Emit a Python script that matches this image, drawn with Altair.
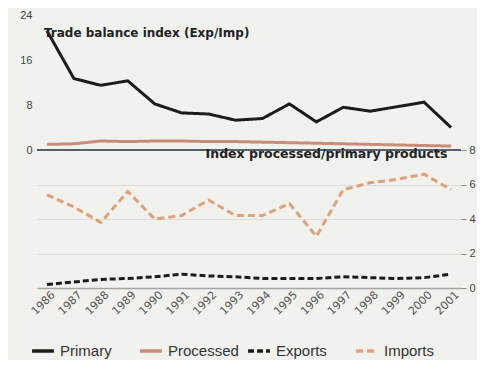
import altair as alt
import pandas as pd

years = [str(y) for y in range(1986, 2002)]
# Trade balance index (Exp/Imp), left axis
primary = [21.2, 12.7, 11.5, 12.3, 8.2, 6.6, 6.4, 5.3, 5.6, 8.2, 5.0, 7.6, 6.9, 7.7, 8.5, 4.0]
processed = [1.0, 1.1, 1.6, 1.5, 1.6, 1.6, 1.5, 1.5, 1.4, 1.3, 1.2, 1.1, 1.0, 0.9, 0.8, 0.7]
# Index processed/primary products, right axis
exports = [0.2, 0.35, 0.5, 0.55, 0.65, 0.8, 0.7, 0.65, 0.55, 0.55, 0.55, 0.65, 0.6, 0.55, 0.6, 0.8]
imports = [5.4, 4.7, 3.8, 5.6, 4.0, 4.2, 5.1, 4.2, 4.2, 4.9, 3.0, 5.7, 6.1, 6.3, 6.6, 5.7]

series_names = ["Primary", "Processed", "Exports", "Imports"]
series_colors = ["#1c1c1c", "#c98c76", "#1c1c1c", "#dea27a"]
series_dashes = [[1, 0], [1, 0], [6, 3], [7, 4]]

left_ticks = [0, 8, 16, 24]
right_ticks = [0, 2, 4, 6, 8]

annot_text = ["Trade balance index (Exp/Imp)", "Index processed/primary products"]
annot_year = ["1986", "1992"]
annot_value = [20.8, -0.7]
annot_size = [12, 12.5]

left_df = pd.DataFrame({
    "year": years * 2,
    "value": primary + processed,
    "series": ["Primary"] * len(years) + ["Processed"] * len(years),
})
right_df = pd.DataFrame({
    "year": years * 2,
    "value": exports + imports,
    "series": ["Exports"] * len(years) + ["Imports"] * len(years),
})
annot_df = pd.DataFrame({"year": annot_year, "value": annot_value, "label": annot_text, "size": annot_size})
zero_df = pd.DataFrame({"value": [0]})

W, H = 424, 273

x_enc = alt.X(
    "year:O",
    scale=alt.Scale(type="point", padding=0.37, domain=years),
    axis=alt.Axis(
        title=None, labelAngle=-45, labelAlign="right", labelBaseline="middle",
        ticks=False, domainColor="#a5a5a5", domainWidth=1.5,
        labelFont="DejaVu Sans", labelFontSize=11, labelColor="#555",
        labelPadding=5, labelOffset=6, grid=False,
    ),
)

left_scale = alt.Scale(domain=[-24.53, 24], nice=False, zero=False)
left_axis = alt.Axis(
    values=left_ticks, title=None, ticks=False, domain=False, grid=False,
    labelPadding=5, labelFont="Liberation Sans", labelFontSize=11, labelColor="#444",
)
left_y = alt.Y("value:Q", scale=left_scale, axis=left_axis)

right_scale = alt.Scale(domain=[0, 15.83], nice=False, zero=False)
right_axis = alt.Axis(
    values=right_ticks, title=None, orient="right", domain=False, grid=True,
    gridColor="#dcdcdc", gridWidth=1, tickColor="#8a8a8a", tickSize=5,
    labelPadding=3, labelFont="Liberation Sans", labelFontSize=11, labelColor="#444",
)
right_y = alt.Y("value:Q", scale=right_scale, axis=right_axis)

color_enc = alt.Color("series:N", scale=alt.Scale(domain=series_names, range=series_colors), title=None)
dash_enc = alt.StrokeDash("series:N", scale=alt.Scale(domain=series_names, range=series_dashes), title=None)

zero_rule = alt.Chart(zero_df).mark_rule(color="#56606b", strokeWidth=2).encode(y=left_y)

left_lines = alt.Chart(left_df).mark_line(strokeWidth=3).encode(
    x=x_enc, y=left_y, color=color_enc, strokeDash=dash_enc
)

annots = alt.Chart(annot_df).mark_text(
    align="left", baseline="middle", dx=-3, font="DejaVu Sans", fontWeight="bold",
    color="#222",
).encode(x=x_enc, y=left_y, text="label:N",
         size=alt.Size("size:Q", scale=None, legend=None))

right_lines = alt.Chart(right_df).mark_line(strokeWidth=3).encode(
    x=x_enc, y=right_y, color=color_enc, strokeDash=dash_enc
)

left_group = alt.layer(zero_rule, left_lines, annots)

chart = alt.layer(left_group, right_lines).resolve_scale(y="independent").properties(
    width=W, height=H,
    autosize=alt.AutoSizeParams(type="none"),
    padding={"left": 29, "top": 7, "right": 16, "bottom": 72},
    background="#f1f1ee",
).configure_view(stroke=None).configure_legend(
    orient="none", legendX=-7, legendY=323, direction="horizontal", columns=4,
    gridAlign="all", columnPadding=2, symbolType="stroke", symbolStrokeWidth=3.5,
    symbolSize=480, labelFontSize=15, labelFont="Liberation Sans", labelColor="#333",
    padding=0,
)

chart.save("out.html", embed_options={"renderer": "svg", "actions": False})
